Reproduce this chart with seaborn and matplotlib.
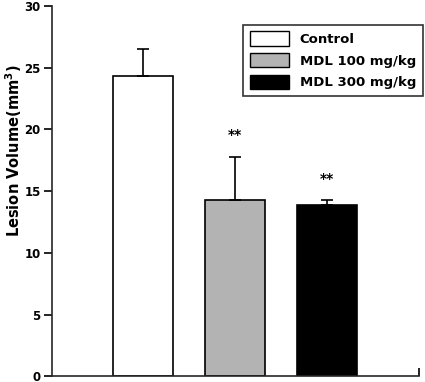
import matplotlib
matplotlib.use('Agg')
import matplotlib.pyplot as plt
import seaborn as sns
import pandas as pd

# data
groups = ['Control', 'MDL 100 mg/kg', 'MDL 300 mg/kg']
means = [24.3, 14.3, 13.85]
sems = [2.2, 3.45, 0.4]
stars = ['', '**', '**']
colors = ['white', '#b3b3b3', 'black']

df = pd.DataFrame({'group': groups, 'volume': means})

sns.set_style('ticks')
plt.rcParams['font.family'] = ['DejaVu Sans']
plt.rcParams.update({'text.color': 'black', 'axes.labelcolor': 'black',
                     'xtick.color': 'black', 'ytick.color': 'black'})

fig = plt.figure(figsize=(4.25, 3.82), dpi=100)
ax = fig.add_axes([0.122, 0.015, 0.864, 0.969])

sns.barplot(data=df, x='group', y='volume', hue='group', palette=colors,
            edgecolor='black', linewidth=1.2, width=0.65, dodge=False,
            legend=False, ax=ax)

# upper error bars only
ax.errorbar(range(len(groups)), means, yerr=[[0] * len(sems), sems],
            fmt='none', ecolor='black', elinewidth=1.2, capsize=4, capthick=1.2)

for i, s in enumerate(stars):
    if s:
        ax.text(i, means[i] + sems[i] + 1.2, s, ha='center', va='bottom',
                fontsize=10, fontweight='bold')

ax.set_ylim(0, 30)
ax.set_yticks(range(0, 31, 5))
ax.set_xlim(-0.99, 3.0)
ax.set_xticks([3.0])
ax.set_xticklabels([''])
ax.tick_params(axis='x', direction='in', length=6, width=1.2)
ax.tick_params(axis='y', direction='out', length=6, width=1.2, labelsize=8.5, pad=2)
for lab in ax.get_yticklabels():
    lab.set_fontweight('bold')
ax.set_xlabel('')
ax.set_ylabel('Lesion Volume(mm$^\\mathbf{3}$)', fontsize=10.5, fontweight='bold')
ax.yaxis.set_label_coords(-0.075, 0.61)
sns.despine(ax=ax)
ax.spines['left'].set_linewidth(1.2)
ax.spines['bottom'].set_linewidth(1.2)

handles = [plt.Rectangle((0, 0), 1, 1, facecolor=c, edgecolor='black', linewidth=1)
           for c in colors]
leg = ax.legend(handles, groups, loc='upper right', bbox_to_anchor=(1.028, 0.968),
                frameon=True, fancybox=False, edgecolor='black',
                handlelength=3.0, handleheight=1.3, borderpad=0.5,
                labelspacing=0.55, handletextpad=0.8,
                prop={'weight': 'bold', 'size': 9.5})
leg.get_frame().set_linewidth(1.2)

fig.savefig('out.png', dpi=100)
